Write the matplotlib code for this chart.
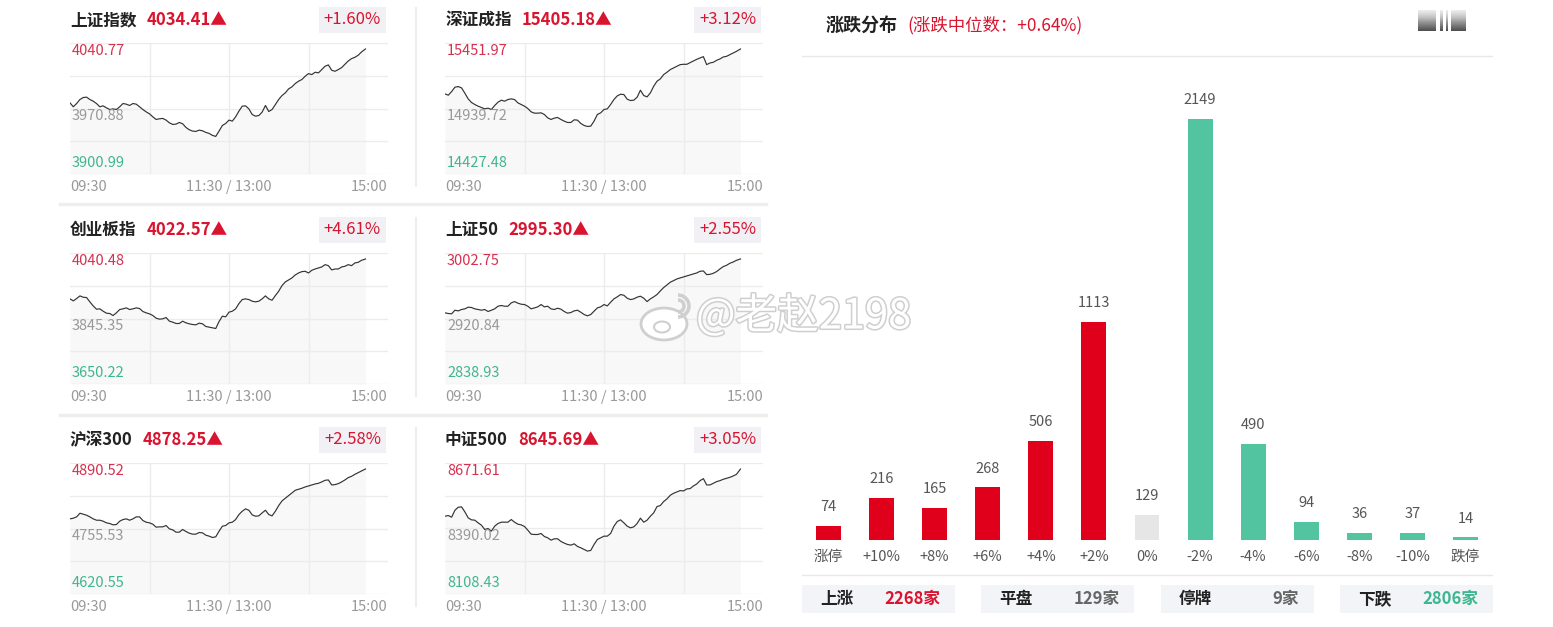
import numpy as np
import matplotlib
matplotlib.use('Agg')
import matplotlib.pyplot as plt
from matplotlib.patches import Rectangle, Ellipse, Arc
import matplotlib.patheffects as pe

plt.rcParams['font.family'] = ['Noto Sans CJK SC', 'DejaVu Sans']

# ---------------- data ----------------
index_names = ['上证指数', '深证成指', '创业板指', '上证50', '沪深300', '中证500']
index_last = [4034.41, 15405.18, 4022.57, 2995.30, 4878.25, 8645.69]
index_pct = ['+1.60%', '+3.12%', '+4.61%', '+2.55%', '+2.58%', '+3.05%']
axis_top = [4040.77, 15451.97, 4040.48, 3002.75, 4890.52, 8671.61]
prev_close = [3970.88, 14939.72, 3845.35, 2920.84, 4755.53, 8390.02]
axis_bottom = [3900.99, 14427.48, 3650.22, 2838.93, 4620.55, 8108.43]
time_labels = ['09:30', '11:30 / 13:00', '15:00']

# intraday samples every 2.5 trading minutes from 09:30
minutes = [2.5 * i for i in range(89)] + [223.0]

sh_index = [3976.9, 3972.7, 3976.2, 3980.5, 3982.6, 3983.0, 3980.5, 3978.7, 3976.2, 3972.7,
            3973.7, 3971.6, 3969.8, 3970.5, 3969.8, 3972.7, 3976.2, 3975.5, 3974.1, 3976.2,
            3975.5, 3972.7, 3969.8, 3967.3, 3965.2, 3962.0, 3959.2, 3959.9, 3960.3, 3958.5,
            3955.6, 3953.9, 3954.2, 3956.0, 3954.6, 3950.7, 3948.2, 3946.8, 3946.4, 3947.8,
            3947.1, 3945.4, 3944.3, 3942.2, 3941.1, 3946.8, 3952.8, 3954.9, 3958.5, 3957.4,
            3962.0, 3968.1, 3973.4, 3973.7, 3970.5, 3964.5, 3962.7, 3963.4, 3967.0, 3974.1,
            3967.7, 3969.8, 3975.1, 3980.5, 3984.7, 3987.6, 3991.8, 3994.0, 3997.5, 4000.0,
            4001.8, 4005.3, 4008.1, 4007.1, 4009.6, 4008.9, 4012.4, 4016.0, 4017.4, 4011.7,
            4010.6, 4012.4, 4014.5, 4018.1, 4021.6, 4024.1, 4025.5, 4027.7, 4031.2, 4034.41]

sz_index = [15054.1, 15043.7, 15072.3, 15106.1, 15111.3, 15100.9, 15059.3, 15015.1, 14986.5, 14970.9,
            14957.9, 14947.5, 14937.1, 14942.3, 14931.9, 14963.1, 14989.1, 15004.7, 14996.9, 15009.9,
            15015.1, 15009.9, 14983.9, 14970.9, 14957.9, 14939.7, 14913.7, 14903.3, 14903.3, 14905.9,
            14892.9, 14866.9, 14853.9, 14864.3, 14869.5, 14853.9, 14840.9, 14830.5, 14830.5, 14851.3,
            14848.7, 14822.7, 14807.1, 14799.3, 14801.9, 14840.9, 14892.9, 14905.9, 14931.9, 14937.1,
            14970.9, 15009.9, 15038.5, 15051.5, 15048.9, 15012.5, 15002.1, 15004.7, 15028.1, 15082.7,
            15041.1, 15030.7, 15061.9, 15113.9, 15152.9, 15171.1, 15204.9, 15223.1, 15243.9, 15256.9,
            15269.9, 15282.9, 15285.5, 15285.5, 15298.5, 15311.5, 15324.5, 15334.9, 15345.3, 15282.9,
            15295.9, 15301.1, 15316.7, 15327.1, 15342.7, 15347.9, 15360.9, 15373.9, 15386.9, 15405.18]

cyb_index = [3903.8, 3897.8, 3904.8, 3912.7, 3908.7, 3907.8, 3894.9, 3883.0, 3873.1, 3874.1,
             3867.1, 3861.2, 3860.2, 3854.3, 3862.2, 3872.1, 3874.1, 3877.0, 3872.1, 3874.1,
             3877.0, 3875.1, 3866.2, 3862.2, 3859.2, 3854.3, 3846.3, 3843.4, 3844.4, 3848.3,
             3837.4, 3834.5, 3830.5, 3830.5, 3837.4, 3832.5, 3829.5, 3827.5, 3826.5, 3831.5,
             3829.5, 3821.6, 3819.6, 3817.6, 3815.6, 3836.4, 3852.3, 3850.3, 3864.2, 3867.1,
             3874.1, 3889.9, 3901.8, 3903.8, 3901.8, 3896.9, 3894.9, 3896.9, 3903.8, 3912.7,
             3903.8, 3899.8, 3913.7, 3926.6, 3943.4, 3954.3, 3960.2, 3966.2, 3975.1, 3981.0,
             3985.0, 3986.0, 3981.0, 3989.0, 3992.9, 3995.9, 3998.9, 4005.8, 4002.8, 3990.0,
             3992.9, 3992.9, 3998.9, 4000.9, 4005.8, 4002.8, 4010.8, 4012.7, 4018.7, 4022.57]

sz50_index = [2927.9, 2927.1, 2926.7, 2931.2, 2930.4, 2932.1, 2932.9, 2935.0, 2934.6, 2932.9,
              2932.1, 2931.2, 2932.1, 2929.6, 2931.2, 2932.9, 2936.2, 2937.1, 2936.2, 2936.2,
              2940.4, 2942.0, 2940.0, 2938.7, 2938.3, 2936.2, 2932.9, 2934.1, 2935.4, 2938.3,
              2935.4, 2936.2, 2932.9, 2932.1, 2933.7, 2932.5, 2929.6, 2927.5, 2928.3, 2930.4,
              2931.2, 2928.7, 2925.8, 2924.2, 2925.8, 2930.0, 2934.1, 2935.4, 2938.3, 2936.6,
              2941.2, 2945.4, 2947.9, 2950.8, 2949.9, 2946.2, 2944.5, 2945.4, 2947.5, 2948.7,
              2946.2, 2942.0, 2945.4, 2947.9, 2950.8, 2955.3, 2959.5, 2962.8, 2966.2, 2968.2,
              2970.3, 2971.6, 2972.8, 2974.1, 2975.3, 2976.6, 2977.8, 2979.9, 2980.3, 2975.7,
              2976.1, 2977.4, 2979.5, 2982.8, 2985.7, 2987.4, 2989.9, 2991.5, 2993.6, 2995.30]

hs300_index = [4775.4, 4776.8, 4779.5, 4787.0, 4785.0, 4782.9, 4779.5, 4775.4, 4772.6, 4772.6,
               4770.6, 4767.2, 4765.8, 4763.1, 4763.7, 4770.6, 4774.0, 4775.4, 4772.6, 4775.4,
               4779.5, 4779.5, 4772.0, 4768.5, 4767.2, 4764.4, 4758.3, 4758.9, 4758.9, 4761.7,
               4754.8, 4752.8, 4748.0, 4748.0, 4753.5, 4749.4, 4745.9, 4743.9, 4743.9, 4747.3,
               4746.6, 4741.8, 4739.8, 4737.0, 4738.4, 4750.0, 4760.3, 4761.7, 4767.2, 4768.5,
               4774.0, 4784.3, 4791.2, 4796.0, 4793.2, 4783.6, 4780.9, 4781.6, 4787.7, 4793.2,
               4784.3, 4781.6, 4791.2, 4802.8, 4812.4, 4817.9, 4823.4, 4828.8, 4834.3, 4836.4,
               4838.5, 4841.2, 4843.2, 4845.3, 4847.3, 4848.7, 4851.5, 4854.9, 4855.6, 4845.3,
               4846.0, 4848.0, 4851.5, 4855.6, 4860.4, 4863.1, 4867.2, 4870.6, 4874.1, 4878.25]

zz500_index = [8442.9, 8445.8, 8438.6, 8468.6, 8481.5, 8482.9, 8461.5, 8435.8, 8427.2, 8425.8,
               8414.3, 8404.3, 8385.7, 8390.0, 8378.6, 8400.0, 8411.5, 8417.2, 8417.2, 8417.2,
               8428.6, 8417.2, 8408.6, 8405.7, 8398.6, 8382.9, 8365.7, 8364.3, 8364.3, 8368.6,
               8355.7, 8350.0, 8340.0, 8345.7, 8345.7, 8334.3, 8327.1, 8321.4, 8318.5, 8324.2,
               8312.8, 8307.1, 8299.9, 8292.8, 8295.7, 8321.4, 8342.8, 8350.0, 8357.1, 8357.1,
               8368.6, 8400.0, 8420.0, 8427.2, 8414.3, 8400.0, 8392.9, 8397.2, 8411.5, 8434.3,
               8417.2, 8425.8, 8442.9, 8457.2, 8484.3, 8488.6, 8505.8, 8517.2, 8532.9, 8541.5,
               8547.2, 8553.0, 8551.5, 8560.1, 8561.5, 8573.0, 8581.5, 8595.8, 8604.4, 8577.3,
               8577.3, 8584.4, 8591.5, 8595.8, 8601.6, 8605.8, 8610.1, 8615.8, 8623.0, 8645.69]

index_series = [sh_index, sz_index, cyb_index, sz50_index, hs300_index, zz500_index]

dist_categories = ['涨停', '+10%', '+8%', '+6%', '+4%', '+2%', '0%',
                   '-2%', '-4%', '-6%', '-8%', '-10%', '跌停']
dist_counts = [74, 216, 165, 268, 506, 1113, 129, 2149, 490, 94, 36, 37, 14]
median_change = '+0.64%'

summary_labels = ['上涨', '平盘', '停牌', '下跌']
summary_counts = [2268, 129, 9, 2806]

# ---------------- style ----------------
RED = '#d9142f'
RED_LABEL = '#d6304f'
GREEN_LABEL = '#3fb68d'
BAR_RED = '#e1001b'
BAR_GREEN = '#52c4a0'
BAR_GRAY = '#e6e6e6'
GRID = '#ececec'

W, H = 1553, 627
fig = plt.figure(figsize=(W / 100, H / 100), dpi=100)
fig.patch.set_facecolor('white')


def rect(x0, y0, x1, y1):
    return [x0 / W, 1 - y1 / H, (x1 - x0) / W, (y1 - y0) / H]


over = fig.add_axes([0, 0, 1, 1], zorder=5)
over.set_xlim(0, W)
over.set_ylim(H, 0)
over.axis('off')
over.patch.set_alpha(0)

renderer = fig.canvas.get_renderer()

# ---------------- index mini charts ----------------
for k in range(6):
    r, c = divmod(k, 2)
    x0, x1 = 70 + 375 * c, 388 + 375 * c
    yt, yb = 43 + 210 * r, 174 + 210 * r
    ax = fig.add_axes(rect(x0, yt, x1, yb), zorder=1)
    ax.set_xlim(0, 240)
    ax.set_ylim(axis_bottom[k], axis_top[k])
    for s in ax.spines.values():
        s.set_visible(False)
    ax.set_xticks([60, 120, 180])
    ax.set_yticks(np.linspace(axis_bottom[k], axis_top[k], 5))
    ax.grid(True, color=GRID, lw=1)
    ax.tick_params(length=0, labelbottom=False, labelleft=False)
    ax.patch.set_alpha(0)
    ax.fill_between(minutes, index_series[k], axis_bottom[k], color='#f8f8f8', lw=0)
    ax.plot(minutes, index_series[k], color='#333333', lw=0.85)

    ty = 20 + 210 * r
    t = over.text(x0, ty, index_names[k], fontsize=12, fontweight='bold',
                  color='#222222', ha='left', va='center')
    bb = t.get_window_extent(renderer)
    over.text(bb.x1 + 10, ty, f'{index_last[k]:.2f}▲', fontsize=12, fontweight='bold',
              color=RED, ha='left', va='center')
    over.text(x0 + 311, ty, index_pct[k], fontsize=12, color=RED, ha='right', va='center',
              bbox=dict(boxstyle='square,pad=0.28', fc='#f0f0f5', ec='none'))

    over.text(x0 + 2, yt + 8, f'{axis_top[k]:.2f}', fontsize=10.5, color=RED_LABEL,
              ha='left', va='center')
    over.text(x0 + 2, yt + 73, f'{prev_close[k]:.2f}', fontsize=10.5, color='#999999',
              ha='left', va='center')
    over.text(x0 + 2, yb - 11, f'{axis_bottom[k]:.2f}', fontsize=10.5, color=GREEN_LABEL,
              ha='left', va='center')

    over.text(x0, yb + 13, time_labels[0], fontsize=10.5, color='#999999', ha='left', va='center')
    over.text((x0 + x1) / 2, yb + 13, time_labels[1], fontsize=10.5, color='#999999',
              ha='center', va='center')
    over.text(x1, yb + 13, time_labels[2], fontsize=10.5, color='#999999', ha='right', va='center')

# separators on the left part
for r in range(3):
    over.plot([416, 416], [8 + 210 * r, 186 + 210 * r], color='#eeeeee', lw=1.5)
for r in range(2):
    over.plot([60, 766], [204 + 211 * r, 204 + 211 * r], color='#eeeeee', lw=2.5)

# ---------------- distribution ----------------
t = over.text(826, 25, '涨跌分布', fontsize=13, fontweight='bold', color='#222222',
              ha='left', va='center')
bb = t.get_window_extent(renderer)
over.text(bb.x1 + 9, 25, f'(涨跌中位数：{median_change})', fontsize=12.5, color=RED,
          ha='left', va='center')
over.plot([802, 1492], [56, 56], color='#e8e8e8', lw=1)

# blurred icons at the header right
grad = np.linspace(0.15, 0.75, 20).reshape(-1, 1)
for (a, b) in [(1418, 1436), (1440, 1443), (1446, 1448), (1451, 1466)]:
    over.imshow(grad, extent=(a, b, 31, 10), cmap='Greys', vmin=0, vmax=1,
                aspect='auto', interpolation='bilinear')
over.set_xlim(0, W)
over.set_ylim(H, 0)

bax = fig.add_axes(rect(802, 60, 1492, 540), zorder=1)
bax.set_xlim(-0.5, len(dist_categories) - 0.5)
bax.set_ylim(0, 2450)
bax.axis('off')
colors = [BAR_RED] * 6 + [BAR_GRAY] + [BAR_GREEN] * 6
xs = np.arange(len(dist_categories))
bax.bar(xs, dist_counts, width=0.47, color=colors)
for i, v in enumerate(dist_counts):
    bax.annotate(str(v), (xs[i], v), xytext=(0, 13.5), textcoords='offset points',
                 ha='center', va='center', fontsize=10.5, color='#555555')
    bax.annotate(dist_categories[i], (xs[i], 0), xytext=(0, -12), textcoords='offset points',
                 ha='center', va='center', fontsize=10.5, color='#555555', annotation_clip=False)

over.plot([802, 1492], [575, 575], color='#e8e8e8', lw=1)

sum_colors = [RED, '#666666', '#666666', GREEN_LABEL]
for j in range(4):
    bx = 802 + 179.3 * j
    over.add_patch(Rectangle((bx, 585), 153, 28, fc='#f3f4f8', ec='none', zorder=1))
    over.text(bx + 18, 599, summary_labels[j], fontsize=12, fontweight='bold', color='#222222',
              ha='left', va='center', zorder=3)
    over.text(bx + 138, 599, f'{summary_counts[j]}家', fontsize=12, fontweight='bold',
              color=sum_colors[j], ha='right', va='center', zorder=3)

# ---------------- watermark ----------------
wm = [pe.withStroke(linewidth=2.2, foreground='#cfcfcf')]
over.add_patch(Ellipse((664, 324), 46, 32, fc='white', ec='#cfcfcf', lw=2, zorder=8))
over.add_patch(Ellipse((662, 327), 16, 11, fc='white', ec='#cfcfcf', lw=1.5, zorder=8))
over.add_patch(Arc((678, 306), 22, 22, theta1=-90, theta2=90, ec='#cfcfcf', lw=2.5, zorder=8))
over.add_patch(Arc((678, 306), 12, 12, theta1=-90, theta2=90, ec='#cfcfcf', lw=2.5, zorder=8))
over.text(696, 316, '@老赵2198', fontsize=30, color='white', ha='left', va='center',
          path_effects=wm, zorder=9)

fig.savefig('out.png', dpi=100, facecolor='white')
